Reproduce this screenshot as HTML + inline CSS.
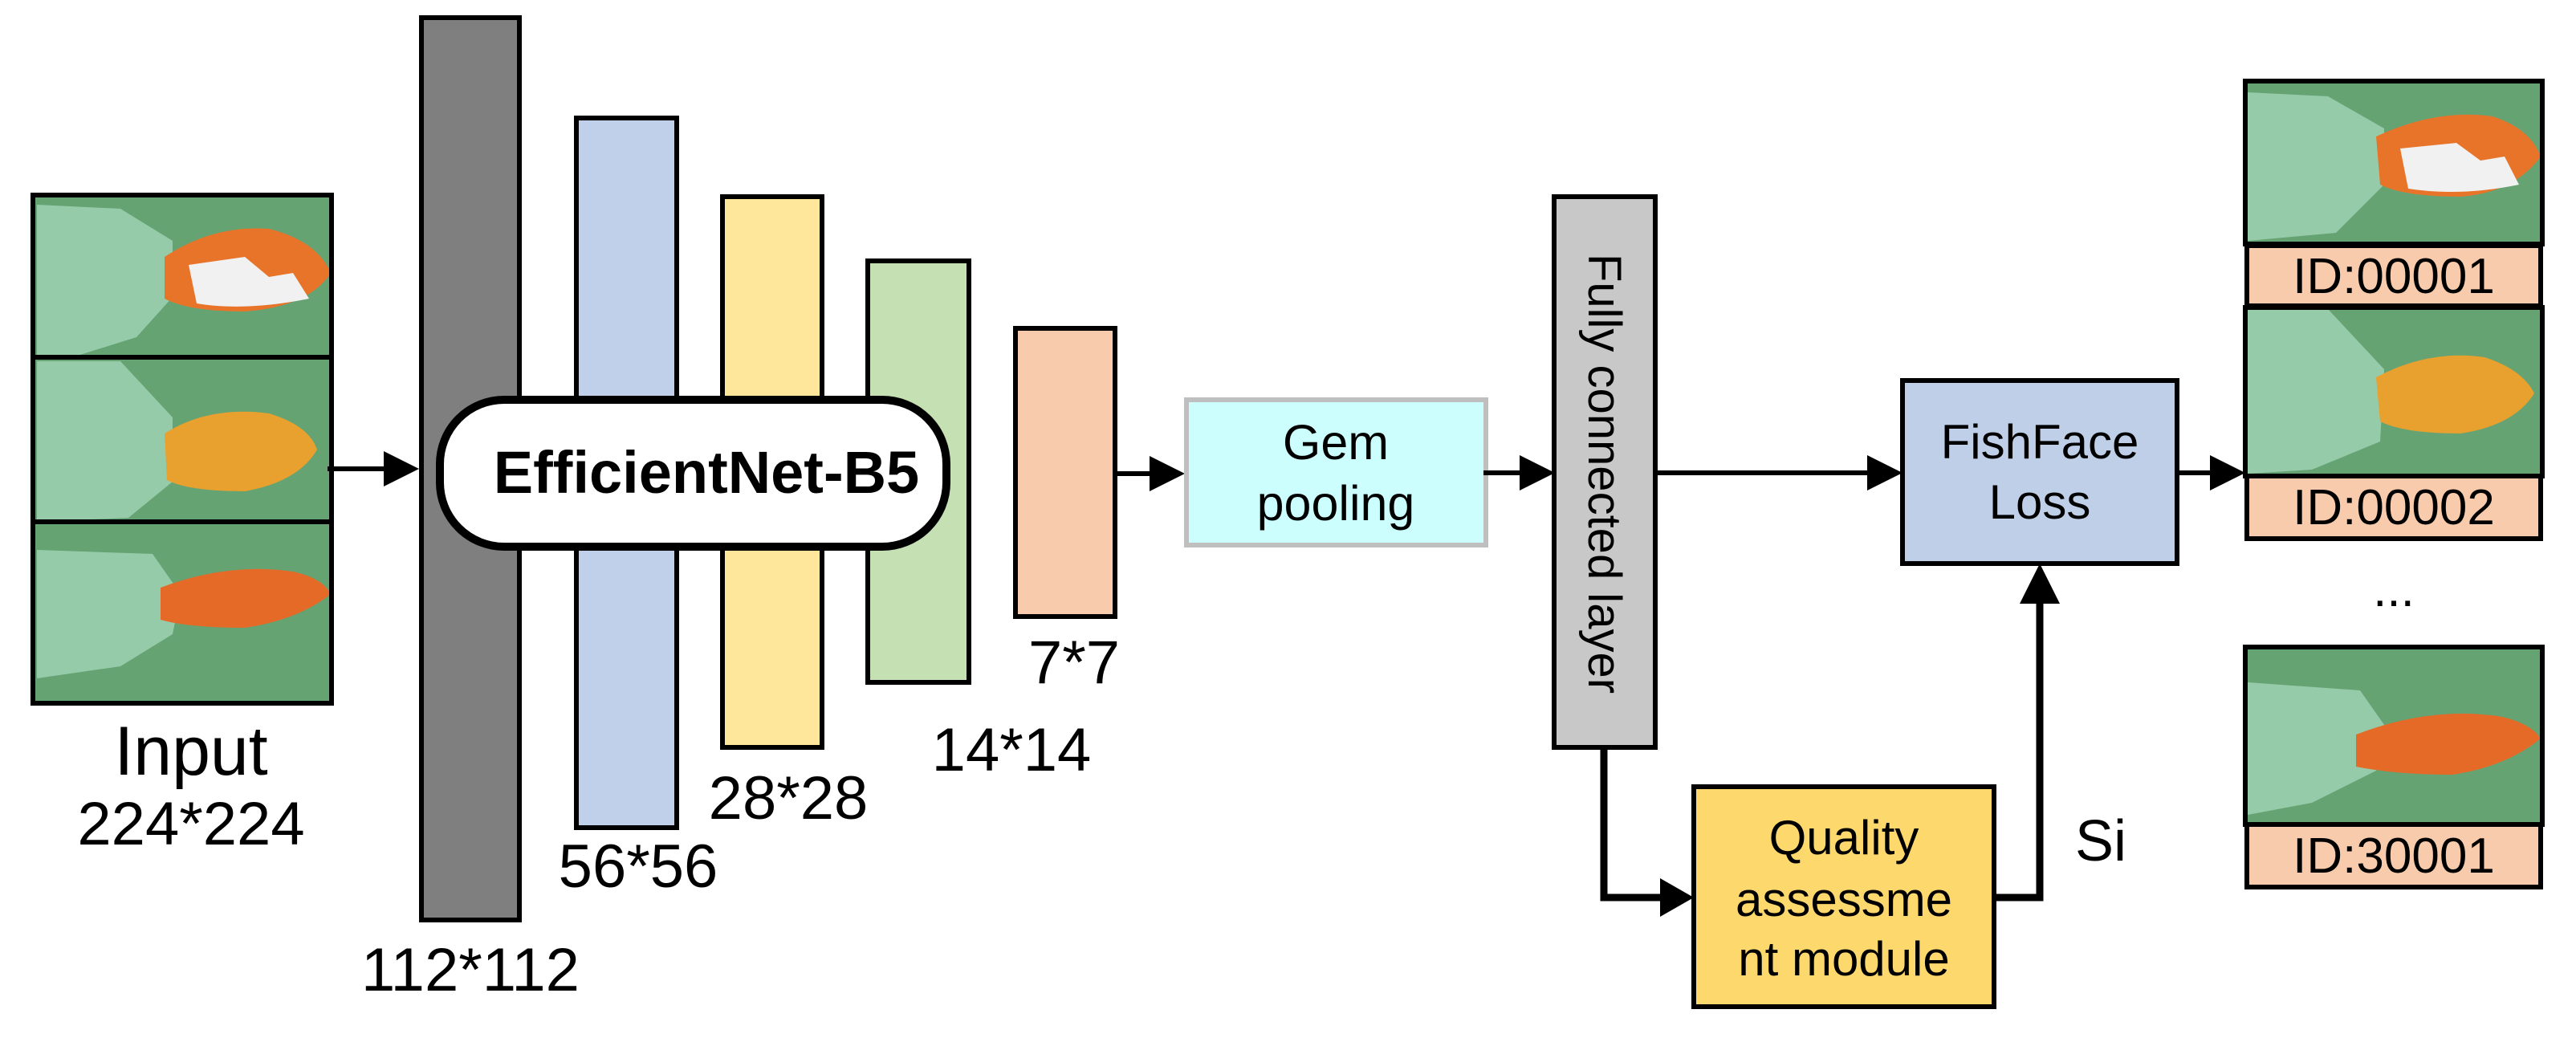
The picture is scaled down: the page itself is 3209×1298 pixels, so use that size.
<!DOCTYPE html>
<html><head><meta charset="utf-8"><style>
html,body{margin:0;padding:0;background:#fff;}
svg{display:block;}
text{font-family:"Liberation Sans",Arial,sans-serif;fill:#000;}
</style></head><body>
<svg width="3209" height="1298" viewBox="0 0 3209 1298" xmlns="http://www.w3.org/2000/svg">

<!-- Input stack -->
<g>
 <rect x="41" y="243" width="372" height="633" fill="#66a373"/>
 <!-- fish 1 -->
 <polygon points="46,255 150,260 215,300 215,370 170,420 90,445 46,445" fill="#9fd2b4" opacity="0.85"/>
 <path d="M205,320 Q265,280 335,285 Q395,300 412,340 Q385,382 305,388 Q235,388 205,372 Z" fill="#e8742a"/>
 <path d="M235,330 L305,320 L335,345 L365,340 L385,372 Q305,388 245,378 Z" fill="#f1f1f1"/>
 <!-- fish 2 -->
 <polygon points="46,450 150,450 215,520 215,600 160,645 46,650" fill="#9fd2b4" opacity="0.85"/>
 <path d="M205,540 Q260,505 335,515 Q385,530 395,560 Q372,600 305,612 Q235,612 208,598 Z" fill="#e8a02e"/>
 <!-- fish 3 -->
 <polygon points="46,685 190,690 225,740 215,790 150,830 46,845" fill="#9fd2b4" opacity="0.85"/>
 <path d="M200,732 Q285,700 365,712 Q402,720 412,740 Q372,772 305,782 Q235,782 200,772 Z" fill="#e56a28"/>
 <line x1="41" y1="445" x2="413" y2="445" stroke="#000" stroke-width="6"/>
 <line x1="41" y1="650" x2="413" y2="650" stroke="#000" stroke-width="6"/>
 <rect x="41" y="243" width="372" height="633" fill="none" stroke="#000" stroke-width="6"/>
</g>
<text x="238" y="965" font-size="86" text-anchor="middle">Input</text>
<text x="238" y="1052" font-size="76" text-anchor="middle">224*224</text>

<line x1="408" y1="584" x2="485" y2="584" stroke="#000" stroke-width="6"/>
<polygon points="478,562 522,584 478,606" fill="#000"/>

<rect x="525" y="22" width="122" height="1124" fill="#7f7f7f" stroke="#000" stroke-width="6"/>
<rect x="718" y="147" width="125" height="884" fill="#c1d0ea" stroke="#000" stroke-width="6"/>
<rect x="900" y="245" width="124" height="686" fill="#fee69a" stroke="#000" stroke-width="6"/>
<rect x="1081" y="325" width="126" height="525" fill="#c5e0b3" stroke="#000" stroke-width="6"/>
<rect x="1265" y="409" width="124" height="359" fill="#f7cbac" stroke="#000" stroke-width="6"/>

<text x="586" y="1234" font-size="76" text-anchor="middle">112*112</text>
<text x="795" y="1105" font-size="76" text-anchor="middle">56*56</text>
<text x="982" y="1020" font-size="76" text-anchor="middle">28*28</text>
<text x="1260" y="960" font-size="76" text-anchor="middle">14*14</text>
<text x="1338" y="851" font-size="76" text-anchor="middle">7*7</text>

<rect x="548" y="498" width="631" height="183" rx="80" ry="80" fill="#fff" stroke="#000" stroke-width="10"/>
<text x="880" y="614" font-size="74" font-weight="bold" text-anchor="middle">EfficientNet-B5</text>

<line x1="1389" y1="590" x2="1440" y2="590" stroke="#000" stroke-width="6"/>
<polygon points="1432,568 1476,590 1432,612" fill="#000"/>

<rect x="1478" y="498" width="373" height="181" fill="#ccfefe" stroke="#bfbfbf" stroke-width="6"/>
<text x="1664" y="572" font-size="61" text-anchor="middle">Gem</text>
<text x="1664" y="648" font-size="61" text-anchor="middle">pooling</text>

<line x1="1848" y1="589" x2="1900" y2="589" stroke="#000" stroke-width="6"/>
<polygon points="1893,567 1937,589 1893,611" fill="#000"/>

<rect x="1936" y="245" width="126" height="686" fill="#c8c8c8" stroke="#000" stroke-width="6"/>
<text x="0" y="0" font-size="58" text-anchor="middle" transform="translate(1979,590) rotate(90)">Fully connected layer</text>

<line x1="2062" y1="589" x2="2330" y2="589" stroke="#000" stroke-width="6"/>
<polygon points="2326,567 2370,589 2326,611" fill="#000"/>

<rect x="2370" y="474" width="342" height="228" fill="#bfcfe8" stroke="#000" stroke-width="6"/>
<text x="2541" y="571" font-size="60" text-anchor="middle">FishFace</text>
<text x="2541" y="646" font-size="60" text-anchor="middle">Loss</text>

<line x1="2712" y1="589" x2="2760" y2="589" stroke="#000" stroke-width="6"/>
<polygon points="2753,567 2797,589 2753,611" fill="#000"/>

<polyline points="1998,931 1998,1118 2075,1118" fill="none" stroke="#000" stroke-width="9"/>
<polygon points="2068,1094 2110,1118 2068,1142" fill="#000"/>

<rect x="2110" y="980" width="374" height="274" fill="#fdd86c" stroke="#000" stroke-width="6"/>
<text x="2297" y="1064" font-size="60" text-anchor="middle">Quality</text>
<text x="2297" y="1141" font-size="60" text-anchor="middle">assessme</text>
<text x="2297" y="1215" font-size="60" text-anchor="middle">nt module</text>

<polyline points="2484,1118 2541,1118 2541,745" fill="none" stroke="#000" stroke-width="9"/>
<polygon points="2516,752 2541,702 2566,752" fill="#000"/>
<text x="2585" y="1072" font-size="72">Si</text>

<g>
 <rect x="2797" y="101" width="370" height="203" fill="#66a373"/>
 <polygon points="2800,115 2900,120 2970,160 2970,230 2910,290 2800,300" fill="#9fd2b4" opacity="0.85"/>
 <path d="M2960,170 Q3035,135 3105,145 Q3152,160 3165,195 Q3132,240 3065,245 Q2995,245 2965,230 Z" fill="#e8742a"/>
 <path d="M2990,185 L3060,178 L3090,200 L3120,195 L3138,230 Q3065,245 3000,235 Z" fill="#f1f1f1"/>
 <rect x="2797" y="101" width="370" height="203" fill="none" stroke="#000" stroke-width="6"/>
 <rect x="2799" y="306" width="366" height="75" fill="#f7cbac" stroke="#000" stroke-width="6"/>
 <text x="2982" y="365" font-size="62" text-anchor="middle">ID:00001</text>

 <rect x="2797" y="383" width="370" height="210" fill="#66a373"/>
 <polygon points="2800,385 2900,385 2970,460 2965,550 2880,585 2800,590" fill="#9fd2b4" opacity="0.85"/>
 <path d="M2960,470 Q3025,435 3095,445 Q3142,460 3157,490 Q3132,530 3065,540 Q2995,540 2965,525 Z" fill="#e8a02e"/>
 <rect x="2797" y="383" width="370" height="210" fill="none" stroke="#000" stroke-width="6"/>
 <rect x="2799" y="593" width="366" height="78" fill="#f7cbac" stroke="#000" stroke-width="6"/>
 <text x="2982" y="653" font-size="62" text-anchor="middle">ID:00002</text>

 <text x="2982" y="755" font-size="62" text-anchor="middle">...</text>

 <rect x="2797" y="806" width="370" height="221" fill="#66a373"/>
 <polygon points="2800,850 2940,860 2975,910 2960,960 2880,1000 2800,1015" fill="#9fd2b4" opacity="0.85"/>
 <path d="M2935,915 Q3025,880 3112,892 Q3152,900 3165,920 Q3122,955 3055,965 Q2985,965 2935,955 Z" fill="#e56a28"/>
 <rect x="2797" y="806" width="370" height="221" fill="none" stroke="#000" stroke-width="6"/>
 <rect x="2799" y="1027" width="366" height="78" fill="#f7cbac" stroke="#000" stroke-width="6"/>
 <text x="2982" y="1087" font-size="62" text-anchor="middle">ID:30001</text>
</g>
</svg>
</body></html>
